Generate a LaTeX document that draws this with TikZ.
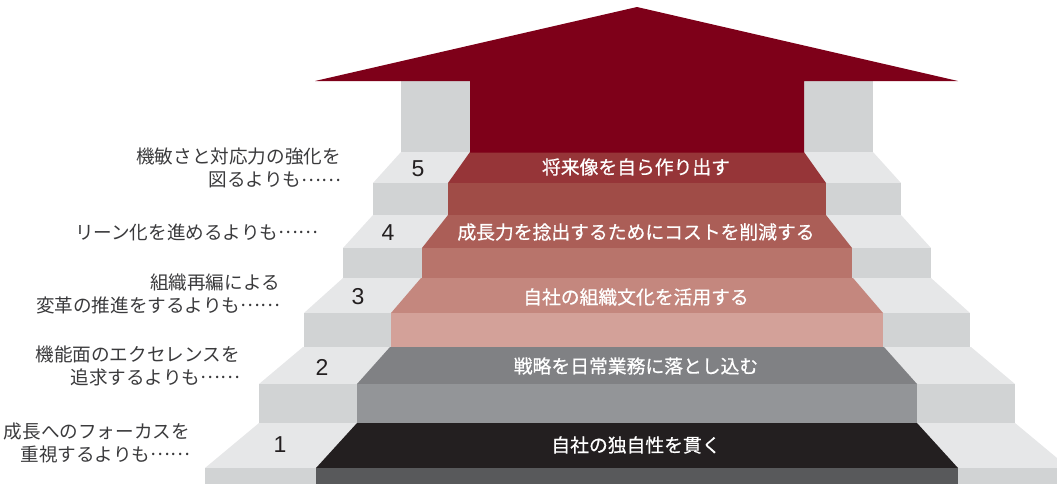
\documentclass[tikz,border=0pt]{standalone}
\usepackage{fontspec}
\newfontfamily\jpfont{Noto Sans CJK JP}
\newfontfamily\jpbold{Noto Sans CJK JP}[FakeBold=0.6]
\newfontfamily\numfont{Liberation Sans}
\newcommand{\midell}{\raisebox{0.3em}{……}}
\definecolor{arrowred}{HTML}{7E0019}
\definecolor{tfive}{HTML}{963538}
\definecolor{rfive}{HTML}{A04C47}
\definecolor{tfour}{HTML}{AB5E57}
\definecolor{rfour}{HTML}{B8746B}
\definecolor{tthree}{HTML}{C4877E}
\definecolor{rthree}{HTML}{D3A199}
\definecolor{ttwo}{HTML}{808184}
\definecolor{rtwo}{HTML}{939598}
\definecolor{tone}{HTML}{231F20}
\definecolor{rone}{HTML}{58595B}
\definecolor{lgtread}{HTML}{E6E7E8}
\definecolor{lgriser}{HTML}{D1D3D4}
\definecolor{labelgray}{HTML}{3A3A3C}
\tikzset{
  bandtext/.style={text=white,font=\jpbold\fontsize{18.8}{22}\selectfont,inner sep=0pt},
  sidelabel/.style={text=labelgray,font=\jpfont\fontsize{18.6}{23}\selectfont,align=right,anchor=east,inner sep=0pt},
  stepnum/.style={text=tone,font=\numfont\fontsize{23}{26}\selectfont,inner sep=0pt}
}
% \stair{yt}{ym}{yb}{a}{b}{A}{B}{treadcol}{risercol}
\newcommand{\stair}[9]{%
  \fill[lgtread] (637-#6,#1) -- (637+#6,#1) -- (637+#7,#2) -- (637-#7,#2) -- cycle;
  \fill[lgriser] (637-#7,#2) rectangle (637+#7,#3);
  \fill[#8] (637-#4,#1) -- (637+#4,#1) -- (637+#5,#2) -- (637-#5,#2) -- cycle;
  \fill[#9] (637-#5,#2) rectangle (637+#5,#3);
}
\begin{document}
\begin{tikzpicture}[x=1pt,y=-1pt]
\useasboundingbox (0,0) rectangle (1057,483);
\clip (0,0) rectangle (1057,483);
% pillars beside arrow shaft
\fill[lgriser] (401,81) rectangle (873,152.5);
% steps
\stair{152}{183}{215.5}{167}{189}{236}{264}{tfive}{rfive}
\stair{215}{248}{278.5}{189}{215}{264}{294}{tfour}{rfour}
\stair{278}{313}{347.5}{216}{246}{294}{333}{tthree}{rthree}
\stair{347}{384}{423.5}{247}{280}{334}{378}{ttwo}{rtwo}
\stair{423}{468}{490}{280}{321}{378}{432}{tone}{rone}
% arrow
\fill[arrowred] (315,81) -- (637,7) -- (958,81) -- (804,81) -- (804,152.5) -- (470,152.5) -- (470,81) -- cycle;
% band texts
\node[bandtext] (b5) at (636,167) {将来像を自ら作り出す};
\node[bandtext] (b4) at (636,232) {成長力を捻出するためにコストを削減する};
\node[bandtext] (b3) at (636,297) {自社の組織文化を活用する};
\node[bandtext] (b2) at (636,366) {戦略を日常業務に落とし込む};
\node[bandtext] (b1) at (636,445) {自社の独自性を貫く};
% step numbers
\node[stepnum] (n5) at (418,169) {5};
\node[stepnum] (n4) at (388,233) {4};
\node[stepnum] (n3) at (358,297) {3};
\node[stepnum] (n2) at (322,367) {2};
\node[stepnum] (n1) at (280,445) {1};
% side labels
\node[sidelabel] (l5) at (341,168) {機敏さと対応力の強化を\\図るよりも\midell};
\node[sidelabel] (l4) at (318,232) {リーン化を進めるよりも\midell};
\node[sidelabel] (l3) at (280,294) {組織再編による\\変革の推進をするよりも\midell};
\node[sidelabel] (l2) at (240,366) {機能面のエクセレンスを\\追求するよりも\midell};
\node[sidelabel] (l1) at (190,443) {成長へのフォーカスを\\重視するよりも\midell};
\end{tikzpicture}
\end{document}
